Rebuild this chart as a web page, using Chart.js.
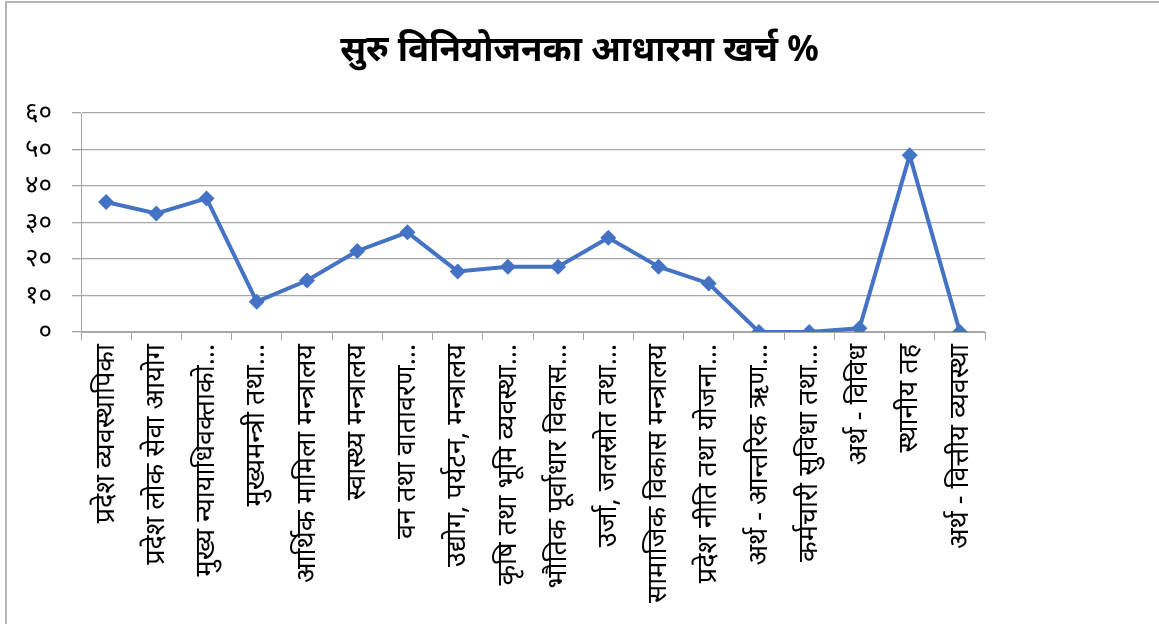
<!DOCTYPE html>
<html>
<head>
<meta charset="utf-8">
<script src="https://cdn.jsdelivr.net/npm/chart.js@4/dist/chart.umd.min.js"></script>
<style>
  html, body { margin: 0; padding: 0; background: #ffffff; }
  #wrap { width: 1159px; height: 624px; position: relative; }
</style>
</head>
<body>
<div id="wrap"><canvas id="c" width="1159" height="624"></canvas></div>
<script>
const chartTitle = 'सुरु विनियोजनका आधारमा खर्च %';

const categories = [
  'प्रदेश व्यवस्थापिका',
  'प्रदेश लोक सेवा आयोग',
  'मुख्य न्यायाधिवक्ताको…',
  'मुख्यमन्त्री तथा…',
  'आर्थिक मामिला मन्त्रालय',
  'स्वास्थ्य मन्त्रालय',
  'वन तथा वातावरण…',
  'उद्योग, पर्यटन, मन्त्रालय',
  'कृषि तथा भूमि व्यवस्था…',
  'भौतिक पूर्वाधार विकास…',
  'उर्जा, जलस्रोत तथा…',
  'सामाजिक विकास मन्त्रालय',
  'प्रदेश नीति तथा योजना…',
  'अर्थ - आन्तरिक ऋण…',
  'कर्मचारी सुविधा तथा…',
  'अर्थ - विविध',
  'स्थानीय तह',
  'अर्थ - वित्तीय व्यवस्था'
];

const expenditurePct = [35.6, 32.5, 36.6, 8.3, 14.1, 22.2, 27.3, 16.6, 17.9, 17.9, 25.8, 17.9, 13.3, 0, 0, 1.0, 48.4, 0];

const yTickLabels = ['०', '१०', '२०', '३०', '४०', '५०', '६०'];

const devFont = "'Noto Sans', 'Noto Sans Devanagari', 'Lohit Devanagari', 'FreeSans', sans-serif";

const framePlugin = {
  id: 'frame',
  beforeDraw(chart) {
    const ctx = chart.ctx;
    ctx.save();
    ctx.fillStyle = '#ffffff';
    ctx.fillRect(0, 0, chart.width, chart.height);
    ctx.strokeStyle = '#b4b4b4';
    ctx.lineWidth = 2;
    ctx.beginPath();
    ctx.moveTo(6, chart.height);
    ctx.lineTo(6, 2);
    ctx.lineTo(chart.width, 2);
    ctx.stroke();
    ctx.restore();
  }
};

new Chart(document.getElementById('c'), {
  type: 'line',
  data: {
    labels: categories,
    datasets: [{
      data: expenditurePct,
      borderColor: '#4472C4',
      backgroundColor: '#4472C4',
      borderWidth: 4,
      pointStyle: 'rectRot',
      pointRadius: 8,
      pointHoverRadius: 8,
      pointBorderWidth: 0,
      tension: 0,
      fill: false
    }]
  },
  options: {
    responsive: false,
    animation: false,
    devicePixelRatio: 1,
    layout: { padding: { left: 0, right: 0, top: 0, bottom: 0 } },
    plugins: {
      legend: { display: false },
      tooltip: { enabled: false },
      title: {
        display: true,
        text: chartTitle,
        color: '#000000',
        font: { family: devFont, size: 35, weight: 'bold', lineHeight: 1.2 },
        padding: { top: 30, bottom: 41 }
      }
    },
    scales: {
      x: {
        offset: true,
        grid: {
          offset: true,
          drawOnChartArea: false,
          drawTicks: true,
          tickLength: 8,
          color: '#a6a6a6',
          lineWidth: 1
        },
        border: { display: true, color: '#a6a6a6', width: 1 },
        ticks: {
          autoSkip: false,
          minRotation: 90,
          maxRotation: 90,
          padding: 4,
          color: '#000000',
          font: { family: devFont, size: 27 }
        },
        afterFit(scale) { scale.height = 292; }
      },
      y: {
        min: 0,
        max: 60,
        grid: {
          color: '#a6a6a6',
          lineWidth: 1.3,
          drawTicks: true,
          tickLength: 9
        },
        border: { display: true, color: '#a6a6a6', width: 1 },
        ticks: {
          stepSize: 10,
          padding: 20,
          color: '#000000',
          font: { family: devFont, size: 26 },
          callback: (v, i) => yTickLabels[i]
        },
        afterFit(scale) { scale.width = 81; }
      },
      spacer: {
        type: 'linear',
        position: 'right',
        display: true,
        grid: { display: false, drawTicks: false },
        border: { display: false },
        ticks: { display: false },
        afterFit(scale) { scale.width = 174; }
      }
    }
  },
  plugins: [framePlugin]
});
</script>
</body>
</html>
